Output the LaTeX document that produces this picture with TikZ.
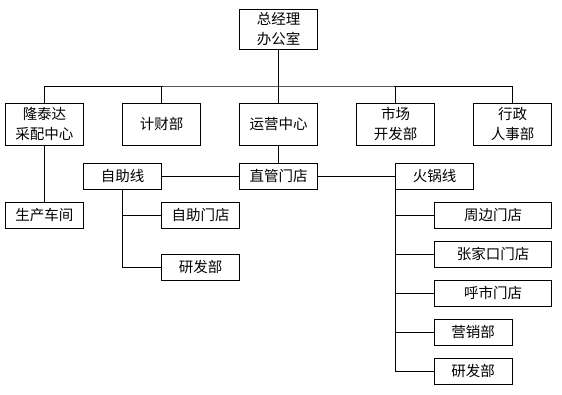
\documentclass[tikz,border=0pt]{standalone}
\usepackage{fontspec}
\setmainfont{Noto Sans CJK SC}
\usepackage{tikz}
\tikzset{x=1pt,y=-1pt}
\usetikzlibrary{calc}

\begin{document}
\begin{tikzpicture}[line width=.9pt,
    box/.style={draw, inner sep=0pt, align=center, minimum width=78pt, minimum height=26pt,
      font=\fontsize{14.5}{20}\selectfont},
    tall/.style={box, minimum height=42pt},
    wide/.style={box, minimum width=117pt}]
    \useasboundingbox (0,0) rectangle (562,394);
    % top
    \node[tall, minimum height=40pt] (gm) at (278.5,29) {总经理\\办公室};
    \coordinate (bus) at (278.5,86);
    % second row
    \node[tall] (ltd) at (44.5,124) {隆泰达\\采配中心};
    \node[tall] (jcb) at (161.5,124) {计财部};
    \node[tall] (yyzx) at (278.5,124) {运营中心};
    \node[tall] (scb) at (395.5,124) {市场\\开发部};
    \node[tall] (xzb) at (512.5,124) {行政\\人事部};
    % third row
    \node[box] (zzx) at (122.5,176) {自助线};
    \node[box] (zgmd) at (278.5,176) {直管门店};
    \node[box] (hgx) at (434.5,176) {火锅线};
    \node[box] (sccj) at (44.5,215) {生产车间};
    % self-service line
    \node[box] (zzmd) at (200.5,215) {自助门店};
    \node[box] (yfb) at (200.5,267) {研发部};
    % hotpot line
    \node[wide] (zbmd) at (493,215) {周边门店};
    \node[wide] (zjkmd) at (493,254) {张家口门店};
    \node[wide] (hsmd) at (493,293) {呼市门店};
    \node[box] (yxb) at (473,332) {营销部};
    \node[box] (hgyfb) at (473,371) {研发部};

    \draw (gm) -- (yyzx);
    \draw (ltd.north) |- (bus) -| (xzb.north);
    \foreach \n in {jcb,scb}
      \draw (\n.north) -- (\n.north |- bus);
    \draw (ltd) -- (sccj);
    \draw (yyzx) -- (zgmd);
    \draw (zzx) -- (zgmd) -- (hgx);
    \draw (zzx.south) |- (yfb);
    \draw (zzx.south |- zzmd) -- (zzmd);
    \draw (hgx.south west) |- (hgyfb);
    \foreach \n in {zbmd,zjkmd,hsmd,yxb}
      \draw (hgx.south west |- \n) -- (\n.west);
\end{tikzpicture}
\end{document}
